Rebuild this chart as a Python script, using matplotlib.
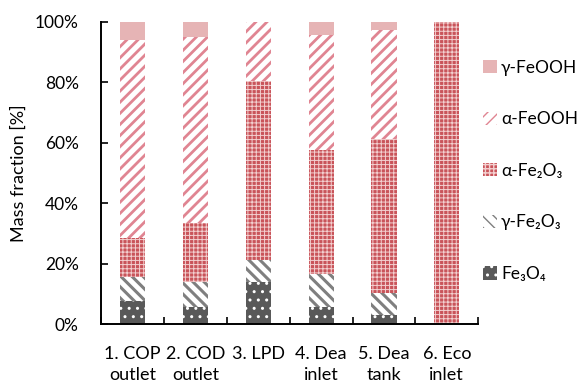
import matplotlib

matplotlib.use("Agg")

import matplotlib.pyplot as plt
import numpy as np
from matplotlib.ticker import PercentFormatter

plt.rcParams["font.family"] = ["Lato", "DejaVu Sans"]
plt.rcParams["font.size"] = 12.5

# sample locations
categories = ["1. COP\noutlet", "2. COD\noutlet", "3. LPD", "4. Dea\ninlet", "5. Dea\ntank", "6. Eco\ninlet"]

# mass fractions in % (bottom to top)
fe3o4 = [7.7, 5.7, 14.0, 5.5, 3.1, 0.0]
gamma_fe2o3 = [8.0, 8.3, 7.2, 11.0, 7.1, 0.0]
alpha_fe2o3 = [12.9, 19.3, 59.3, 41.1, 51.0, 100.0]
alpha_feooh = [65.4, 61.7, 19.5, 38.1, 36.2, 0.0]
gamma_feooh = [6.0, 5.0, 0.0, 4.3, 2.6, 0.0]

series = [
    ("Fe₃O₄", fe3o4, dict(facecolor="#595959", edgecolor="white", hatch="..", hlw=1.0)),
    ("γ-Fe₂O₃", gamma_fe2o3, dict(facecolor="white", edgecolor="#7f7f7f", hatch="\\\\\\", hlw=2.2)),
    ("α-Fe₂O₃", alpha_fe2o3, dict(facecolor="#c9545a", edgecolor="#f3d0d0", hatch="++++", hlw=0.7)),
    ("α-FeOOH", alpha_feooh, dict(facecolor="white", edgecolor="#e08592", hatch="///", hlw=2.0)),
    ("γ-FeOOH", gamma_feooh, dict(facecolor="#e6b4b5", edgecolor="#e6b4b5", hatch=None, hlw=1.0)),
]

fig = plt.figure(figsize=(5.84, 3.83), dpi=100)
ax = fig.add_axes([0.173, 0.154, 0.646, 0.789])

x = np.arange(len(categories))
bottom = np.zeros(len(categories))
handles = []
for name, values, style in series:
    with plt.rc_context({"hatch.linewidth": style["hlw"]}):
        bars = ax.bar(
            x, values, width=0.4, bottom=bottom, label=name,
            facecolor=style["facecolor"], edgecolor=style["edgecolor"],
            hatch=style["hatch"], linewidth=0,
        )
    handles.append(bars)
    bottom += np.array(values)

ax.set_xlim(-0.5, len(categories) - 0.5)
ax.set_ylim(0, 100)
ax.yaxis.set_major_formatter(PercentFormatter(decimals=0))
ax.set_yticks(np.arange(0, 101, 20))
ax.set_xticks(np.arange(len(categories) + 1) - 0.5, minor=False)
ax.set_xticklabels([])
ax.set_xticks(x, categories, minor=True)
for lbl in ax.get_xticklabels(minor=True):
    lbl.set_linespacing(1.35)
ax.tick_params(axis="x", which="major", direction="in", length=5, width=1.2)
ax.tick_params(axis="x", which="minor", length=0, pad=16, labelsize=13)
ax.tick_params(axis="y", direction="in", length=5, width=1.2, labelsize=12.5, pad=16)
for side in ["top", "right"]:
    ax.spines[side].set_visible(False)
for side in ["left", "bottom"]:
    ax.spines[side].set_linewidth(1.4)
ax.set_ylabel("Mass fraction [%]", fontsize=13, labelpad=6)

leg = fig.legend(
    handles[::-1], [s[0] for s in series][::-1],
    loc="upper left", bbox_to_anchor=(0.80, 0.885), frameon=False,
    handlelength=0.8, handleheight=0.8, handletextpad=0.25,
    labelspacing=2.05, fontsize=12.5,
)

fig.savefig("out.png", dpi=100)
